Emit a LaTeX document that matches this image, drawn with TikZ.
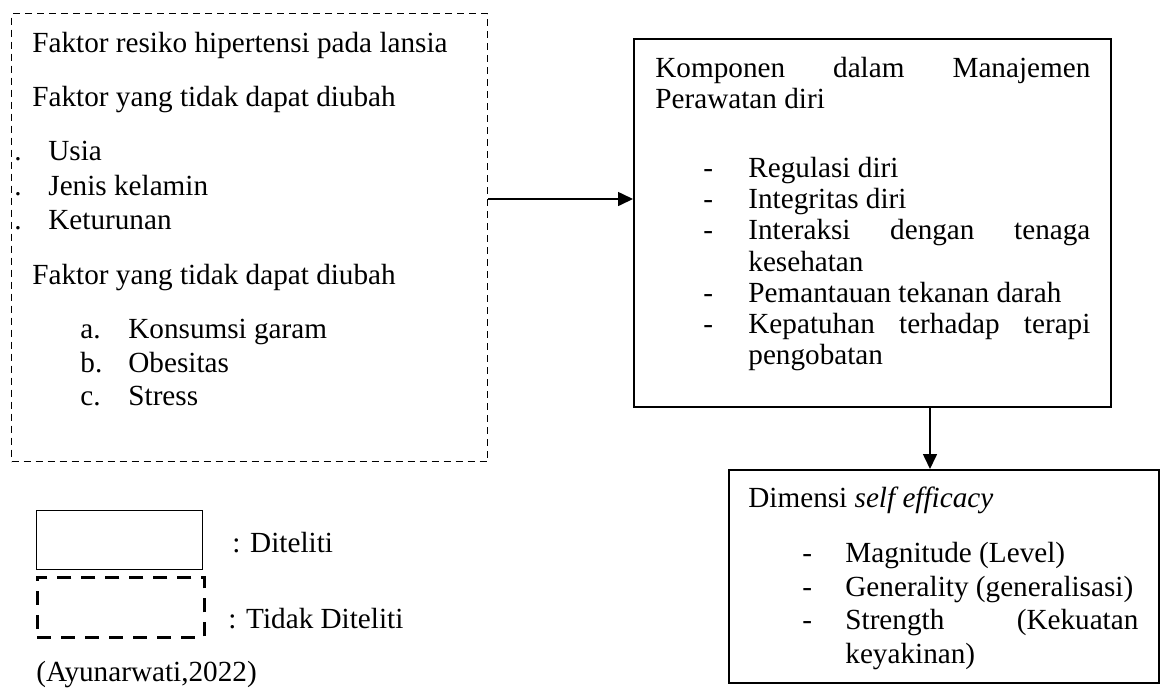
\documentclass[tikz,border=0pt]{standalone}
\usepackage{fontspec}
\setmainfont{Liberation Serif}
\usepackage{tikz}
\usetikzlibrary{arrows.meta}
\newcommand\fsz{\fontsize{14.6pt}{17pt}\selectfont}
\tikzset{
  box/.style={draw=black, line width=0.75pt, inner sep=0pt, anchor=north west},
  dashbox/.style={draw=black, line width=0.65pt, dash pattern=on 3.5pt off 2.5pt, inner sep=0pt, anchor=north west},
  thickdash/.style={draw=black, line width=1.3pt, dash pattern=on 7pt off 5pt, inner sep=0pt, anchor=north west},
  arr/.style={draw=black, line width=0.8pt, -{Triangle[length=7.5pt,width=7pt]}},
  txt/.style={inner sep=0pt, anchor=base west, font=\fsz}
}

\begin{document}
\begin{tikzpicture}[x=0.5pt, y=-0.5pt]
  \useasboundingbox (0,0) rectangle (1168,692);

  % boxes
  \node[dashbox, minimum width=238pt, minimum height=224pt] (risk) at (11,13) {};
  \node[box, minimum width=238.5pt, minimum height=184pt] (care) at (633,38) {};
  \node[box, minimum width=215pt, minimum height=106.5pt] (self) at (728,469) {};

  % connectors
  \draw[arr] (risk.east |- {(0,199)}) -- (care.west |- {(0,199)});
  \draw[arr] (care.south -| {(930,0)}) -- (self.north -| {(930,0)});

  % risk factors
  \node[txt] (r1) at (32,52) {Faktor resiko hipertensi pada lansia};
  \node[txt] (r2) at (32,106) {Faktor yang tidak dapat diubah};
  \node[txt] (d1) at (14,160) {.};
  \node[txt] (u1) at (48,160) {Usia};
  \node[txt] (d2) at (14,195) {.};
  \node[txt] (u2) at (48,195) {Jenis kelamin};
  \node[txt] (d3) at (14,229) {.};
  \node[txt] (u3) at (48,229) {Keturunan};
  \node[txt] (r3) at (32,284) {Faktor yang tidak dapat diubah};
  \node[txt] (la) at (80,338) {a.};
  \node[txt] (ca) at (128,338) {Konsumsi garam};
  \node[txt] (lb) at (80,372) {b.};
  \node[txt] (cb) at (128,372) {Obesitas};
  \node[txt] (lc) at (80,405) {c.};
  \node[txt] (cc) at (128,405) {Stress};

  % self-care components
  \node[txt] (k1) at (655,77) {\makebox[217.5pt][s]{Komponen dalam Manajemen}};
  \node[txt] (k2) at (655,108) {Perawatan diri};
  \foreach \yy/\name/\item in {177/m1/{Regulasi diri}, 208/m2/{Integritas diri},
      239/m3/{\makebox[171pt][s]{Interaksi dengan tenaga}},
      302/m4/{Pemantauan tekanan darah},
      333/m5/{\makebox[171pt][s]{Kepatuhan terhadap terapi}}}{
    \node[txt] (\name-dash) at (703,\yy) {-};
    \node[txt] (\name) at (748,\yy) {\item};
  }
  \node[txt] (m3b) at (748,271) {kesehatan};
  \node[txt] (m5b) at (748,364) {pengobatan};

  % self efficacy
  \node[txt] (s0) at (748,507) {Dimensi \textit{self efficacy}};
  \foreach \yy/\name/\item in {562/s1/{Magnitude (Level)}, 596/s2/{Generality (generalisasi)},
      629/s3/{\makebox[146.5pt][s]{Strength (Kekuatan}}}{
    \node[txt] (\name-dash) at (802,\yy) {-};
    \node[txt] (\name) at (845,\yy) {\item};
  }
  \node[txt] (s3b) at (845,663) {keyakinan)};

  % legend
  \node[box, line width=0.65pt, minimum width=83pt, minimum height=29.5pt] (keyA) at (36,510) {};
  \node[thickdash, minimum width=83.5pt, minimum height=30pt] (keyB) at (36,576) {};
  \node[txt] (keyAt) at (232,552) {: Diteliti};
  \node[txt] (keyBt) at (228,628) {: Tidak Diteliti};
  \node[txt] (src) at (36,681) {(Ayunarwati,2022)};
\end{tikzpicture}
\end{document}
